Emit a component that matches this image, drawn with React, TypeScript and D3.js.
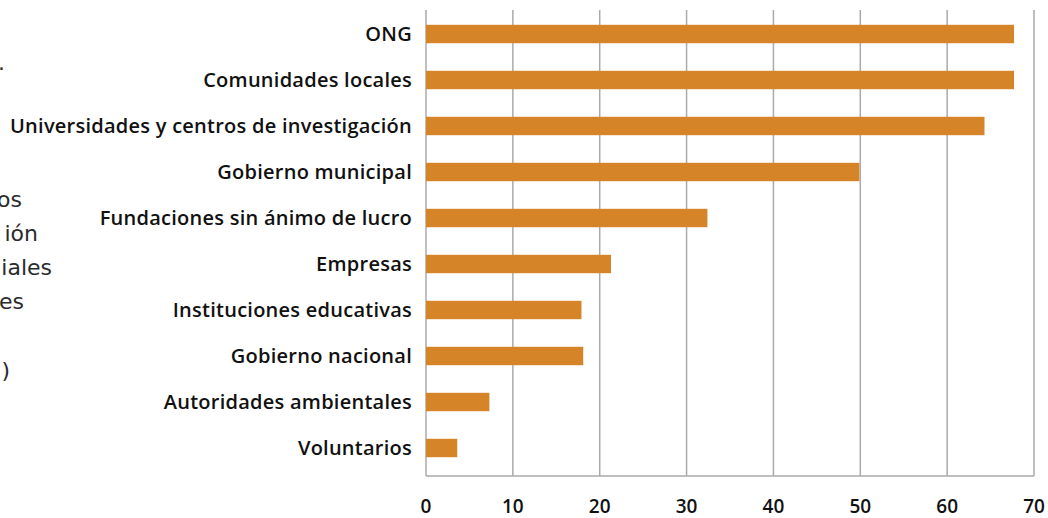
import { useEffect, useRef } from "react";
import * as d3 from "d3";

const categories = [
  "ONG",
  "Comunidades locales",
  "Universidades y centros de investigación",
  "Gobierno municipal",
  "Fundaciones sin ánimo de lucro",
  "Empresas",
  "Instituciones educativas",
  "Gobierno nacional",
  "Autoridades ambientales",
  "Voluntarios",
];
const values = [67.7, 67.7, 64.3, 49.9, 32.4, 21.3, 17.9, 18.1, 7.3, 3.6];
const xTicks = [0, 10, 20, 30, 40, 50, 60, 70];
// cut-off side text visible at the left edge
const sideText = [".", "os", "ión", "iales", "es", ")"];
const sideX = [5, 22, 38, 52, 24, 10];
const sideY = [70, 207, 241, 275, 309, 378];

const App = () => {
  const svgRef = useRef<SVGSVGElement>(null);

  useEffect(() => {
    const width = 1048;
    const height = 518;
    const left = 426;
    const right = 1034;
    const top = 10;
    const bottom = 476;
    const font = "'Open Sans', sans-serif";

    const svg = d3.select(svgRef.current);
    svg.selectAll("*").remove();
    svg.attr("width", width).attr("height", height);

    const x = d3.scaleLinear().domain([0, 70]).range([left, right]);
    const y = d3.scaleBand().domain(categories).range([11, 471]).paddingInner(0.6).paddingOuter(0.3);

    // gridlines
    svg.append("g")
      .selectAll("line")
      .data(xTicks)
      .enter().append("line")
      .attr("x1", d => x(d))
      .attr("x2", d => x(d))
      .attr("y1", top)
      .attr("y2", bottom)
      .attr("stroke", "#aaaaaa")
      .attr("stroke-width", 1.5);

    // bottom axis line
    svg.append("line")
      .attr("x1", left)
      .attr("x2", right)
      .attr("y1", bottom)
      .attr("y2", bottom)
      .attr("stroke", "#aaaaaa")
      .attr("stroke-width", 1.5);

    // bars
    svg.append("g")
      .selectAll("rect")
      .data(values)
      .enter().append("rect")
      .attr("x", x(0))
      .attr("y", (d, i) => (y(categories[i]) as number))
      .attr("width", d => x(d) - x(0))
      .attr("height", y.bandwidth())
      .attr("fill", "#d58428");

    // category labels
    svg.append("g")
      .selectAll("text")
      .data(categories)
      .enter().append("text")
      .attr("x", 412)
      .attr("y", d => (y(d) as number) + y.bandwidth() / 2)
      .attr("dy", "0.36em")
      .attr("text-anchor", "end")
      .style("font-family", font)
      .style("font-weight", 600)
      .style("font-size", "20px")
      .style("letter-spacing", "0.25px")
      .style("fill", "#111")
      .text(d => d);

    // tick labels
    svg.append("g")
      .selectAll("text")
      .data(xTicks)
      .enter().append("text")
      .attr("x", d => x(d))
      .attr("y", 513)
      .attr("text-anchor", "middle")
      .style("font-family", font)
      .style("font-weight", 600)
      .style("font-size", "19px")
      .style("fill", "#111")
      .text(d => d);

    // side text fragments
    svg.append("g")
      .selectAll("text")
      .data(sideText)
      .enter().append("text")
      .attr("x", (d, i) => sideX[i])
      .attr("y", (d, i) => sideY[i])
      .attr("text-anchor", "end")
      .style("font-family", "'DejaVu Sans', sans-serif")
      .style("font-size", "22px")
      .style("fill", "#2a2a2a")
      .text(d => d);
  }, []);

  return (
    <svg ref={svgRef} style={{ position: "absolute", left: 0, top: 0 }}></svg>
  );
};

export default App;
